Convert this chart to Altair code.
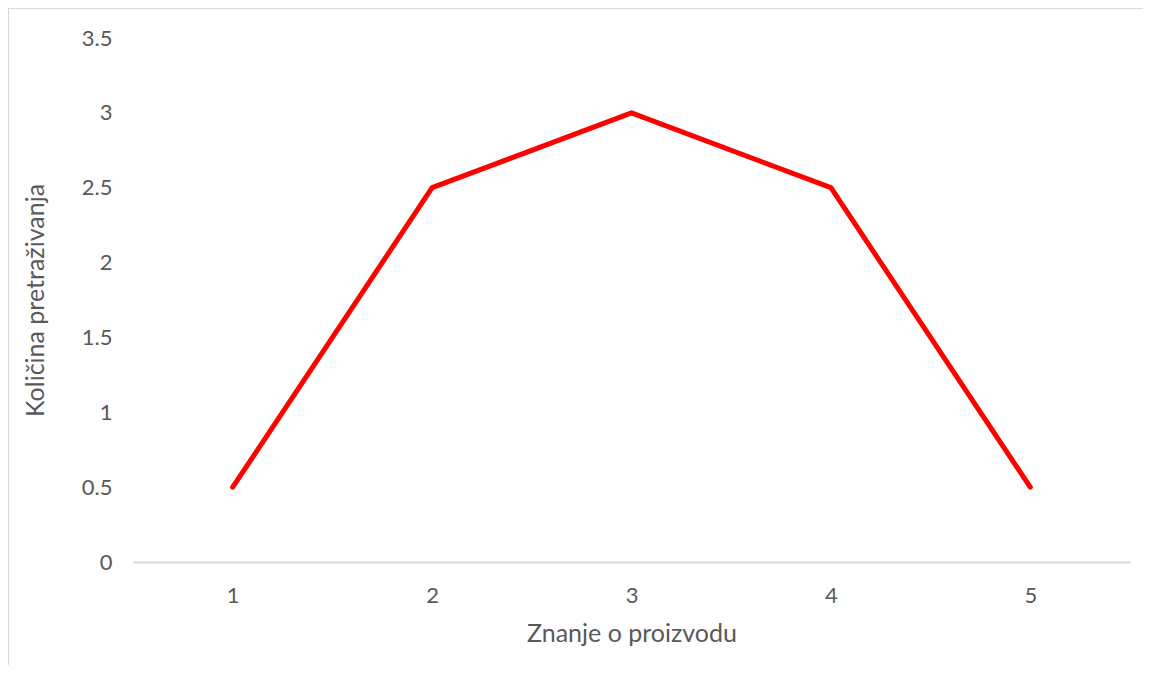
import altair as alt
import pandas as pd

categories = [1, 2, 3, 4, 5]
values = [0.5, 2.5, 3.0, 2.5, 0.5]
y_ticks = [0, 0.5, 1, 1.5, 2, 2.5, 3, 3.5]

df = pd.DataFrame({"x": categories, "y": values})

FONT = "Lato"

line = alt.Chart(df).mark_line(color="#ff0000", strokeWidth=5, strokeJoin="round", strokeCap="round").encode(
    x=alt.X("x:O", scale=alt.Scale(type="point", padding=0.5),
            axis=alt.Axis(title="Znanje o proizvodu", labelAngle=0, ticks=False,
                          domainColor="#d9d9d9", domainWidth=2,
                          labelPadding=23, titlePadding=15)),
    y=alt.Y("y:Q", scale=alt.Scale(domain=[0, 3.5], nice=False),
            axis=alt.Axis(title="Količina pretraživanja", values=y_ticks, format="~g",
                          grid=False, domain=False, ticks=False,
                          labelPadding=21, titlePadding=33)),
)

border = alt.Chart(df).mark_rule(color="#d9d9d9", strokeWidth=2, clip=False).encode(
    x=alt.value(-125), x2=alt.value(1200), y=alt.value(-30)
)
border2 = alt.Chart(df).mark_rule(color="#d9d9d9", strokeWidth=2, clip=False).encode(
    x=alt.value(-125), y=alt.value(-30), y2=alt.value(700)
)

chart = alt.layer(border, border2, line).properties(
    width=997, height=524,
    autosize=alt.AutoSizeParams(type="none"),
    padding={"left": 125, "top": 30, "right": 13, "bottom": 103},
).configure_view(stroke=None).configure_axis(
    labelFont=FONT, titleFont=FONT, labelColor="#595959", titleColor="#595959",
    labelFontSize=22, titleFontSize=25, titleFontWeight="normal"
)

chart.save("out.html", embed_options={"renderer": "svg", "actions": False})
